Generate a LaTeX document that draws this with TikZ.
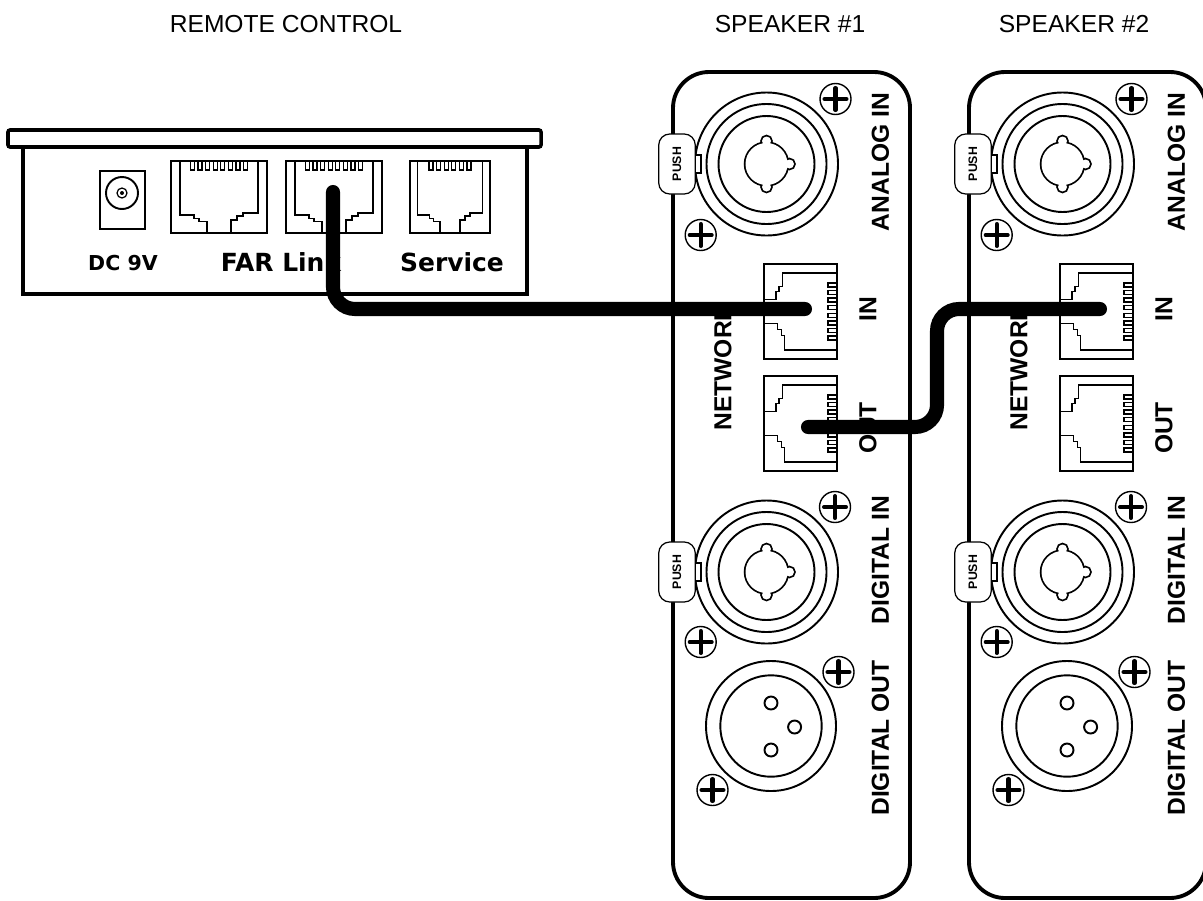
\documentclass[tikz,border=0pt]{standalone}
\usepackage{fontspec}
\setmainfont{Liberation Sans}
\newfontfamily\platefont{DejaVu Sans}
\usepackage{tikz}
\usetikzlibrary{positioning, calc}
\tikzset{
  panel/.style={draw, line width=2.2pt, rounded corners=0.72cm},
  thinline/.style={draw, line width=0.7pt},
  portline/.style={draw, line width=1.1pt},
  cable/.style={line width=8pt, line cap=round, rounded corners=0.44cm},
  toplabel/.style={font=\fontsize{14}{16}\selectfont},
  sidelabel/.style={font=\fontsize{14}{16}\selectfont\bfseries, rotate=90},
  pushlabel/.style={font=\fontsize{7}{8}\selectfont\bfseries, rotate=90},
  platelabel/.style={font=\fontsize{14.2}{16}\selectfont\platefont\bfseries}
}
% centre, half width, half height, rotation, pins
\newcommand{\rjport}[5]{
  \begin{scope}[shift={(#1)}, rotate=#4]
    \pgfmathsetmacro{\fx}{#2/48}
    \draw[portline] (-#2,-#3) rectangle (#2,#3);
    \draw[thinline] (-39*\fx,-#3) -- (-39*\fx,18) -- (-25*\fx,18) -- (-25*\fx,21.5) -- (-20*\fx,21.5) -- (-20*\fx,24.5) -- (-12*\fx,24.5) -- (-12*\fx,#3);
    \draw[thinline] (39*\fx,-#3) -- (39*\fx,16) -- (24*\fx,16) -- (24*\fx,19) -- (18*\fx,19) -- (18*\fx,23) -- (12*\fx,23) -- (12*\fx,#3);
    \pgfmathsetmacro{\pinstart}{-(#5-1)*7.6/2}
    \foreach \p in {1,...,#5} {
      \pgfmathsetmacro{\px}{\pinstart+(\p-1)*7.6}
      \draw[thinline] (\px-2,-#3) -- (\px-2,-#3+9) -- (\px+2,-#3+9) -- (\px+2,-#3);
    }
  \end{scope}
}
\newcommand{\screw}[1]{
  \draw[line width=0.8pt] (#1) circle (15.5);
  \draw[line width=2.3pt, line cap=round] ($(#1)+(-11,0)$) -- ($(#1)+(11,0)$);
  \draw[line width=2.3pt, line cap=round] ($(#1)+(0,-11)$) -- ($(#1)+(0,11)$);
}
% name, centre y
\newcommand{\combojack}[2]{
  \begin{scope}[shift={(766.5,#2)}]
    \draw[portline] (0,0) circle (71.5) circle (60) circle (48);
    \draw[line width=2pt] (0,0) circle (21) (0,-23) circle (4.5) (0,23) circle (4.5) (23,0) circle (4.5);
    \fill[white] (0,0) circle (21) (0,-23) circle (4.5) (0,23) circle (4.5) (23,0) circle (4.5);
    \draw[thinline, fill=white] (-71.5,-9) rectangle (-65.5,9);
    \node[thinline, fill=white, rounded corners=0.22cm, minimum width=0.73cm, minimum height=1.2cm, inner sep=0pt] (#1tab) at (-89.5,0) {};
    \node[pushlabel] (#1push) at (#1tab) {PUSH};
  \end{scope}
}
% name, x offset
\newcommand{\speaker}[2]{
  \begin{scope}[xshift=#2*0.02cm]
    \draw[panel] (673,72) rectangle (910,898);
    \combojack{#1analog}{164}
    \combojack{#1digital}{572}
    \screw{835.5,99}
    \screw{700.7,235}
    \screw{835,507}
    \screw{700.7,642}
    \screw{838.5,672}
    \screw{712.5,790}
    \draw[portline] (771,726) circle (65) circle (50.7);
    \draw[portline] (771,703) circle (6.5) (794.6,727) circle (6.5) (771,750) circle (6.5);
    \node[sidelabel] (#1analoglabel) at (880.5,162) {ANALOG IN};
    \node[sidelabel] (#1inlabel) at (868,309) {IN};
    \node[sidelabel] (#1outlabel) at (868,428) {OUT};
    \node[sidelabel] (#1netlabel) at (723,367) {NETWORK};
    \node[sidelabel] (#1diginlabel) at (880.5,560) {DIGITAL IN};
    \node[sidelabel] (#1digoutlabel) at (880.5,738) {DIGITAL OUT};
  \end{scope}
}
\begin{document}
\begin{tikzpicture}[x=0.02cm, y=-0.02cm]
  \useasboundingbox (0,0) rectangle (1203,900);
  \node[toplabel] (remotelabel) at (286,24) {REMOTE CONTROL};
  \node[toplabel] (speakerAlabel) at (790,24) {SPEAKER \#1};
  \node[toplabel] (speakerBlabel) at (1074,24) {SPEAKER \#2};

  % remote control
  \draw[line width=2pt] (23,147) rectangle (527,294);
  \draw[line width=2pt, rounded corners=0.04cm] (8,130) rectangle (541,147);
  \draw[portline] (100,171) rectangle (145,229);
  \draw[portline] (122,193) circle (16);
  \draw[thinline] (122,193) circle (5);
  \fill (122,193) circle (2);
  \rjport{219,197}{48}{36}{0}{8}
  \rjport{334,197}{48}{36}{0}{8}
  \rjport{450,197}{40}{36}{0}{6}
  \node[platelabel, font=\fontsize{11.7}{14}\selectfont\platefont\bfseries] (dclabel) at (123,263) {DC 9V};
  \node[platelabel] (farlabel) at (281,262) {FAR Link};
  \node[platelabel] (servicelabel) at (452,262) {Service};

  \speaker{spa}{0}
  \speaker{spb}{296}
  \foreach \dx in {0,296} {
    \rjport{800.5+\dx,311.5}{47.5}{36.5}{-90}{8}
    \rjport{800.5+\dx,423.5}{47.5}{36.5}{-90}{8}
  }

  % cables
  \coordinate (farplug) at (333,192);
  \coordinate (inplugA) at (805,309);
  \coordinate (outplugA) at (808,427);
  \coordinate (bend) at (937,368);
  \coordinate (inplugB) at (1100,309);
  \draw[cable] (farplug) |- (inplugA);
  \draw[cable] (outplugA) -| (bend) |- (inplugB);
\end{tikzpicture}
\end{document}
